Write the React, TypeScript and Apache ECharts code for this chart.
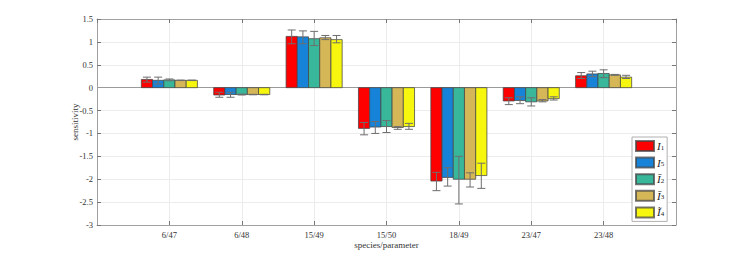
import React, { useEffect, useRef } from "react";
import * as echarts from "echarts";

const categories = ["6/47", "6/48", "15/49", "15/50", "18/49", "23/47", "23/48"];
const yTicks = [-3, -2.5, -2, -1.5, -1, -0.5, 0, 0.5, 1, 1.5];

const seriesNames = ["I1", "I5", "I2", "I3", "I4"];
const seriesLabels = ["{i|I}{s|1}", "{i|I}{s|5}", "{i|Ī}{s|2}", "{i|Ī}{s|3}", "{i|Ĩ}{s|4}"];
const seriesColors = ["#ff0000", "#1783d8", "#38b79a", "#d6b757", "#f6f60e"];

const I1 = [0.18, -0.16, 1.12, -0.89, -2.04, -0.29, 0.26];
const I1Lo = [0.12, -0.21, 0.96, -1.03, -2.25, -0.37, 0.2];
const I1Hi = [0.23, -0.1, 1.26, -0.76, -1.85, -0.22, 0.33];

const I5 = [0.16, -0.15, 1.11, -0.86, -1.96, -0.28, 0.3];
const I5Lo = [0.08, -0.21, 0.96, -1.0, -2.15, -0.35, 0.24];
const I5Hi = [0.23, -0.1, 1.24, -0.74, -1.75, -0.2, 0.36];

const I2 = [0.17, -0.15, 1.07, -0.85, -2.0, -0.31, 0.31];
const I2Lo = [0.15, -0.16, 0.92, -0.98, -2.54, -0.4, 0.22];
const I2Hi = [0.19, -0.14, 1.23, -0.72, -1.5, -0.22, 0.39];

const I3 = [0.16, -0.15, 1.09, -0.87, -2.0, -0.29, 0.28];
const I3Lo = [0.155, -0.155, 1.05, -0.91, -2.17, -0.31, 0.27];
const I3Hi = [0.165, -0.145, 1.14, -0.85, -1.86, -0.26, 0.29];

const I4 = [0.16, -0.15, 1.05, -0.85, -1.92, -0.24, 0.23];
const I4Lo = [0.155, -0.155, 0.98, -0.91, -2.2, -0.27, 0.2];
const I4Hi = [0.165, -0.145, 1.14, -0.78, -1.65, -0.2, 0.27];

const values = [I1, I5, I2, I3, I4];
const lows = [I1Lo, I5Lo, I2Lo, I3Lo, I4Lo];
const highs = [I1Hi, I5Hi, I2Hi, I3Hi, I4Hi];

const FONT = "Liberation Serif";

export default function App() {
  const ref = useRef<HTMLDivElement>(null);
  useEffect(() => {
    if (!ref.current) return;
    const chart = echarts.init(ref.current, undefined, { renderer: "svg" });
    const barFrac = 0.155;

    const series: any[] = values.map((vals, s) => ({
      type: "custom",
      name: seriesNames[s],
      itemStyle: { color: seriesColors[s], borderColor: "rgba(70,70,70,0.75)", borderWidth: 1 },
      data: vals.map((v, i) => [i + 1, v, lows[s][i], highs[s][i]]),
      encode: { x: 0, y: [1, 2, 3] },
      z: 3,
      renderItem: (params: any, api: any) => {
        const c = api.value(0);
        const v = api.value(1);
        const lo = api.value(2);
        const hi = api.value(3);
        const unit = api.size([1, 0])[0];
        const bw = unit * barFrac;
        const p0 = api.coord([c, 0]);
        const p1 = api.coord([c, v]);
        const cx = p0[0] + (s - 2) * bw;
        const yl = api.coord([c, lo])[1];
        const yh = api.coord([c, hi])[1];
        const cap = 4;
        const eStyle = { stroke: "#6e6e6e", lineWidth: 1 };
        return {
          type: "group",
          children: [
            {
              type: "rect",
              shape: { x: cx - bw / 2, y: Math.min(p0[1], p1[1]), width: bw, height: Math.abs(p1[1] - p0[1]) },
              style: { fill: seriesColors[s], stroke: "rgba(70,70,70,0.75)", lineWidth: 1 },
            },
            { type: "line", shape: { x1: cx, y1: yl, x2: cx, y2: yh }, style: eStyle },
            { type: "line", shape: { x1: cx - cap, y1: yl, x2: cx + cap, y2: yl }, style: eStyle },
            { type: "line", shape: { x1: cx - cap, y1: yh, x2: cx + cap, y2: yh }, style: eStyle },
          ],
        };
      },
    }));

    series[0].markLine = {
      silent: true,
      symbol: "none",
      label: { show: false },
      lineStyle: { color: "#9a9a9a", width: 1, type: "solid" },
      data: [{ yAxis: 0 }],
      z: 2,
    };

    const axisLabelStyle = { fontFamily: FONT, fontSize: 8.5, color: "#333" };

    chart.setOption({
      animation: false,
      backgroundColor: "#ffffff",
      grid: { left: 97, right: 71, top: 19, bottom: 28, containLabel: false },
      legend: {
        orient: "vertical",
        left: 632,
        top: 137,
        padding: [3, 3, 3, 3],
        itemWidth: 18,
        itemHeight: 10,
        itemGap: 4.6,
        backgroundColor: "#ffffff",
        borderColor: "#b0b0b0",
        borderWidth: 1,
        borderRadius: 0,
        icon: "rect",
        data: seriesNames,
        formatter: (name: string) => seriesLabels[seriesNames.indexOf(name)],
        textStyle: {
          fontFamily: FONT,
          color: "#222",
          lineHeight: 10,
          padding: [0, 0, 0, -2],
          rich: {
            i: { fontFamily: FONT, fontStyle: "italic", fontSize: 11, lineHeight: 10, color: "#222" },
            s: { fontFamily: FONT, fontSize: 7, lineHeight: 10, color: "#222", verticalAlign: "bottom", padding: [4, 0, 0, 0] },
          },
        },
      },
      xAxis: [
        {
          type: "value",
          min: 0,
          max: 8,
          interval: 1,
          name: "species/parameter",
          nameLocation: "middle",
          nameGap: 15,
          nameMoveOverlap: false,
          nameTextStyle: { fontFamily: FONT, fontSize: 9, color: "#333" },
          axisLine: { show: true, onZero: false, lineStyle: { color: "#a0a0a0" } },
          axisTick: { show: true, inside: true, length: 4, lineStyle: { color: "#777" } },
          axisLabel: {
            ...axisLabelStyle,
            margin: 5,
            showMinLabel: false,
            showMaxLabel: false,
            formatter: (v: number) => (v >= 1 && v <= categories.length ? categories[v - 1] : ""),
          },
          splitLine: { show: true, lineStyle: { color: "#ececec" } },
        },
        {
          type: "value",
          position: "top",
          min: 0,
          max: 8,
          interval: 1,
          axisLine: { show: true, onZero: false, lineStyle: { color: "#a0a0a0" } },
          axisTick: { show: true, inside: true, length: 4, lineStyle: { color: "#777" } },
          axisLabel: { show: false },
          splitLine: { show: false },
        },
      ],
      yAxis: [
        {
          type: "value",
          min: -3,
          max: 1.5,
          interval: 0.5,
          name: "sensitivity",
          nameLocation: "middle",
          nameGap: 18,
          nameMoveOverlap: false,
          nameTextStyle: { fontFamily: FONT, fontSize: 9, color: "#333" },
          axisLine: { show: true, onZero: false, lineStyle: { color: "#a0a0a0" } },
          axisTick: { show: true, inside: true, length: 4, lineStyle: { color: "#777" } },
          axisLabel: {
            ...axisLabelStyle,
            margin: 4,
            formatter: (v: number) => {
              const t = yTicks.find((k) => Math.abs(k - v) < 1e-9);
              return t === undefined ? "" : String(t);
            },
          },
          splitLine: { show: true, lineStyle: { color: "#ececec" } },
        },
        {
          type: "value",
          position: "right",
          min: -3,
          max: 1.5,
          interval: 0.5,
          axisLine: { show: true, onZero: false, lineStyle: { color: "#a0a0a0" } },
          axisTick: { show: true, inside: true, length: 4, lineStyle: { color: "#777" } },
          axisLabel: { show: false },
          splitLine: { show: false },
        },
      ],
      series,
    });
    return () => chart.dispose();
  }, []);
  return (
    <div
      ref={ref}
      style={{ position: "fixed", left: 0, top: 0, width: 747, height: 254, background: "#fff" }}
    />
  );
}
